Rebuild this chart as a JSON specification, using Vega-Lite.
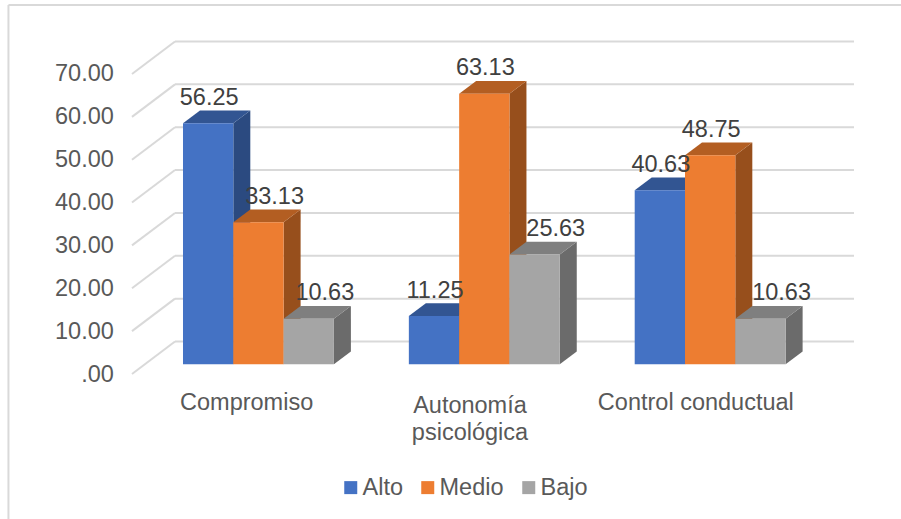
{
"$schema":"https://vega.github.io/schema/vega-lite/v6.json",
"width":901,"height":519,"padding":0,"autosize":{"type":"none"},"background":"white",
"config":{"view":{"stroke":null},"font":"Liberation Sans"},
"datasets":{
"barras":[
{"grupo":"Compromiso","nivel":"Alto","valor":56.25},
{"grupo":"Compromiso","nivel":"Medio","valor":33.13},
{"grupo":"Compromiso","nivel":"Bajo","valor":10.63},
{"grupo":"Autonomía psicológica","nivel":"Alto","valor":11.25},
{"grupo":"Autonomía psicológica","nivel":"Medio","valor":63.13},
{"grupo":"Autonomía psicológica","nivel":"Bajo","valor":25.63},
{"grupo":"Control conductual","nivel":"Alto","valor":40.63},
{"grupo":"Control conductual","nivel":"Medio","valor":48.75},
{"grupo":"Control conductual","nivel":"Bajo","valor":10.63}],
"rejilla":[{"v":0},{"v":10},{"v":20},{"v":30},{"v":40},{"v":50},{"v":60},{"v":70}],
"categorias":[
{"g":0,"linea":0,"etiqueta":"Compromiso"},
{"g":1,"linea":1,"etiqueta":"Autonomía"},
{"g":1,"linea":2,"etiqueta":"psicológica"},
{"g":2,"linea":0,"etiqueta":"Control conductual"}]
},
"resolve":{"scale":{"color":"independent"}},
"layer":[
{"data":{"values":[{}]},"transform":[{"calculate":"86.1","as":"yf"}],"mark":{"type":"rule","color":"#D9D9D9","strokeWidth":2},
 "encoding":{"x":{"datum":-3.47,"type":"quantitative","axis":null,"scale":{"domain":[-3.638,14.274],"nice":false,"zero":false}},"y":{"field":"yf","type":"quantitative","title":null,"scale":{"domain":[-33.83,87.26],"nice":false,"zero":false}},"x2":{"datum":14.274}}},
{"data":{"values":[{}]},"transform":[{"calculate":"86.1","as":"yf"},{"calculate":"-33.83","as":"yg"}],"mark":{"type":"rule","color":"#D9D9D9","strokeWidth":2},
 "encoding":{"x":{"datum":-3.47,"type":"quantitative","axis":null},"y":{"field":"yf","type":"quantitative","title":null},"y2":{"field":"yg"}}},
{"data":{"name":"rejilla"},"transform":[{"calculate":"datum.v+7.58","as":"atras"}],
 "mark":{"type":"rule","color":"#D9D9D9","strokeWidth":2},
 "encoding":{"x":{"datum":-0.159,"type":"quantitative","axis":null},"x2":{"datum":13.34},
 "y":{"field":"atras","type":"quantitative","title":null,"axis":{"values":[0,10,20,30,40,50,60,70],"domain":false,"ticks":false,"grid":false,"labelPadding":-113.3,"labelAlign":"right","labelOverlap":false,"labelBound":false,"labelFontSize":23.5,"labelColor":"#595959","labelFont":"Liberation Sans","labelExpr":"datum.value==0 ? '.00' : format(datum.value,'.2f')"}}}},
{"data":{"name":"rejilla"},"transform":[{"calculate":"datum.v+7.58","as":"atras"}],
 "mark":{"type":"rule","color":"#D9D9D9","strokeWidth":2},
 "encoding":{"x":{"datum":-1.014,"type":"quantitative","axis":null},"x2":{"datum":-0.159},
 "y":{"field":"v","type":"quantitative","title":null},
 "y2":{"field":"atras"}}},
{"data":{"name":"barras"},"transform":[
 {"calculate":"indexof(['Compromiso','Autonomía psicológica','Control conductual'],datum.grupo)*4.49+indexof(['Alto','Medio','Bajo'],datum.nivel)","as":"pos"},
 {"calculate":"0","as":"t0"},{"calculate":"1","as":"t1"},{"fold":["t0","t1"],"as":["k","t"]},
 {"calculate":"datum.pos+1+datum.t*0.338","as":"xs"},
 {"calculate":"datum.valor+2.26+datum.t*2.98","as":"ya"},
 {"calculate":"2.26+datum.t*2.98","as":"yb"}],
 "mark":{"type":"area","orient":"vertical"},
 "encoding":{"x":{"field":"xs","type":"quantitative","axis":null},
 "y":{"field":"ya","type":"quantitative","title":null,"stack":null},"y2":{"field":"yb"},
 "detail":{"field":"pos"},
 "color":{"field":"nivel","type":"nominal","legend":null,"scale":{"domain":["Alto","Medio","Bajo"],"range":["#2B4A80","#974F1C","#6B6B6B"]}}}},
{"data":{"name":"barras"},"transform":[
 {"calculate":"indexof(['Compromiso','Autonomía psicológica','Control conductual'],datum.grupo)*4.49+indexof(['Alto','Medio','Bajo'],datum.nivel)","as":"pos"},
 {"calculate":"0","as":"t0"},{"calculate":"1","as":"t1"},{"fold":["t0","t1"],"as":["k","t"]},
 {"calculate":"datum.pos+datum.t*0.338","as":"xa"},
 {"calculate":"datum.pos+1+datum.t*0.338","as":"xb"},
 {"calculate":"datum.valor+2.26+datum.t*2.98","as":"ys"}],
 "mark":{"type":"area","orient":"horizontal"},
 "encoding":{"y":{"field":"ys","type":"quantitative","title":null},
 "x":{"field":"xa","type":"quantitative","axis":null,"stack":null},"x2":{"field":"xb"},
 "detail":{"field":"pos"},
 "color":{"field":"nivel","type":"nominal","legend":null,"scale":{"domain":["Alto","Medio","Bajo"],"range":["#325592","#B35E22","#7F7F7F"]}}}},
{"data":{"name":"barras"},"transform":[
 {"calculate":"indexof(['Compromiso','Autonomía psicológica','Control conductual'],datum.grupo)*4.49+indexof(['Alto','Medio','Bajo'],datum.nivel)","as":"pos"},
 {"calculate":"datum.pos+1","as":"fin"},
 {"calculate":"datum.valor+2.26","as":"ya"},
 {"calculate":"2.26","as":"yb"}],
 "mark":{"type":"rect"},
 "encoding":{"x":{"field":"pos","type":"quantitative","axis":null},"x2":{"field":"fin"},
 "y":{"field":"ya","type":"quantitative","title":null},"y2":{"field":"yb"},
 "color":{"field":"nivel","type":"nominal","scale":{"domain":["Alto","Medio","Bajo"],"range":["#4472C4","#ED7D31","#A5A5A5"]},
 "legend":{"orient":"none","legendX":339,"legendY":475.5,"padding":0,"direction":"horizontal","columns":3,"title":null,"symbolType":"square","symbolSize":169,"symbolStrokeWidth":0,"labelFontSize":23.5,"labelColor":"#595959","labelFont":"Liberation Sans","labelOffset":0,"columnPadding":13,"symbolOffset":0}}}},
{"data":{"name":"barras"},"transform":[
 {"calculate":"indexof(['Compromiso','Autonomía psicológica','Control conductual'],datum.grupo)*4.49+indexof(['Alto','Medio','Bajo'],datum.nivel)","as":"pos"},
 {"calculate":"datum.pos+0.5+(datum.nivel=='Bajo' ? (datum.grupo=='Compromiso' ? 0.32 : 0.42) : (datum.grupo=='Compromiso' && datum.nivel=='Medio' ? 0.32 : 0.02))","as":"xt"},
 {"calculate":"datum.valor+2.26+5.9","as":"yt"}],
 "mark":{"type":"text","fontSize":23.5,"color":"#404040","font":"Liberation Sans","align":"center","baseline":"middle"},
 "encoding":{"x":{"field":"xt","type":"quantitative","axis":null},"y":{"field":"yt","type":"quantitative","title":null},
 "text":{"field":"valor","type":"quantitative","format":".2f"}}},
{"data":{"name":"categorias"},"transform":[
 {"calculate":"datum.g*4.49+1.5-(datum.g==0 ? 0.235 : 0.285)","as":"xt"},
 {"calculate":"datum.linea==0 ? -6.8 : (datum.linea==1 ? -7.5 : -13.8)","as":"yt"}],
 "mark":{"type":"text","fontSize":23.5,"color":"#595959","font":"Liberation Sans","align":"center","baseline":"middle"},
 "encoding":{"x":{"field":"xt","type":"quantitative","axis":null},"y":{"field":"yt","type":"quantitative","title":null},
 "text":{"field":"etiqueta","type":"nominal"}}}
]
}
